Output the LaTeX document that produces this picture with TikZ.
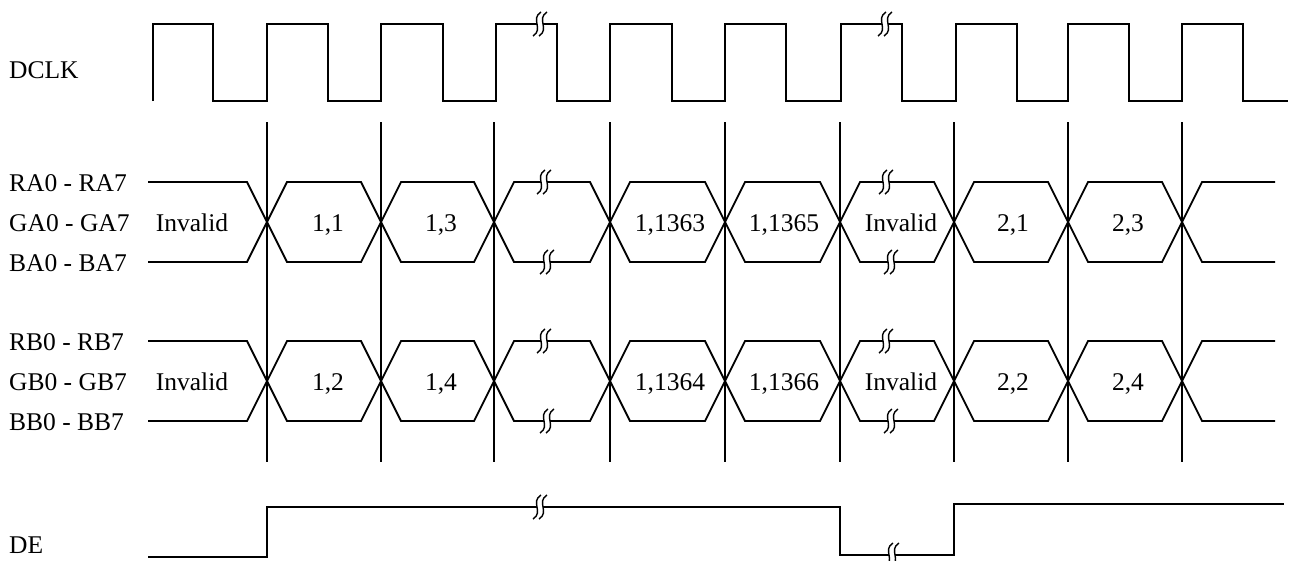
\documentclass[tikz,border=0pt]{standalone}
\usepackage{fontspec}
\setmainfont{Liberation Serif}
\newcommand{\brk}[2]{%
  \fill[white] (#1-3,#2-2.5) rectangle (#1+3,#2+2.5);
  \draw[line width=1.4pt] (#1+1,#2-12) .. controls (#1-10,#2-5) and (#1+4,#2+5) .. (#1-7,#2+12)
    (#1+7,#2-12) .. controls (#1-4,#2-5) and (#1+10,#2+5) .. (#1-1,#2+12);}

\begin{document}
\begin{tikzpicture}[x=1pt,y=-1pt,line join=miter,
    sig/.style={line width=1.8pt},
    lbl/.style={inner sep=0pt,font=\fontsize{25.5}{30}\selectfont},
    val/.style={lbl,text depth=0pt}]
\useasboundingbox (0,0) rectangle (1290,560);

% signal names
\node[lbl,anchor=west] (DCLK) at (9,70) {DCLK};
\node[lbl,anchor=west] (RA) at (9,183) {RA0 - RA7};
\node[lbl,anchor=west] (GA) at (9,223) {GA0 - GA7};
\node[lbl,anchor=west] (BA) at (9,263) {BA0 - BA7};
\node[lbl,anchor=west] (RB) at (9,342) {RB0 - RB7};
\node[lbl,anchor=west] (GB) at (9,382) {GB0 - GB7};
\node[lbl,anchor=west] (BB) at (9,422) {BB0 - BB7};
\node[lbl,anchor=west] (DE) at (9,545) {DE};

% clock
\draw[sig] (153,101) \foreach \r/\f in {153/213,267/328,381/443,496/557,610/672,
    725/786,841/902,956/1017,1068/1129,1182/1243}
    { -- (\r,101) -- (\r,24) -- (\f,24) -- (\f,101) } -- (1288,101);

% sampling lines
\foreach \x in {267,381,494,610,725,840,954,1068,1182}
    \draw[sig] (\x,122) -- (\x,462);

% data buses
\foreach \y in {182,341} {
  \begin{scope}[shift={(0,\y)}]
    \draw[sig] (148,0) -- (247,0) -- (267,40) -- (247,80) -- (148,80);
    \foreach \a/\b in {267/381,381/494,494/610,610/725,725/840,840/954,954/1068,1068/1182}
      \draw[sig] (\a,40) -- (\a+20,0) -- (\b-20,0) -- (\b,40) -- (\b-20,80) -- (\a+20,80) -- cycle;
    \draw[sig] (1275,0) -- (1202,0) -- (1182,40) -- (1202,80) -- (1275,80);
  \end{scope}
}

\node[val] (A0) at (192,223) {Invalid};
\node[val] (A11) at (328,223) {1,1};
\node[val] (A13) at (441,223) {1,3};
\node[val] (A1363) at (670,223) {1,1363};
\node[val] (A1365) at (784,223) {1,1365};
\node[val] (A1) at (901,223) {Invalid};
\node[val] (A21) at (1013,223) {2,1};
\node[val] (A23) at (1128,223) {2,3};

\node[val] (B0) at (192,382) {Invalid};
\node[val] (B12) at (328,382) {1,2};
\node[val] (B14) at (441,382) {1,4};
\node[val] (B1364) at (670,382) {1,1364};
\node[val] (B1366) at (784,382) {1,1366};
\node[val] (B1) at (901,382) {Invalid};
\node[val] (B22) at (1013,382) {2,2};
\node[val] (B24) at (1128,382) {2,4};

% data enable
\draw[sig] (148,557) -- (267,557) -- (267,507) -- (840,507) -- (840,555)
    -- (954,555) -- (954,504) -- (1284,504);

% breaks
\brk{540}{24} \brk{885}{24}
\brk{544}{182} \brk{547}{262} \brk{886}{182} \brk{891}{262}
\brk{544}{341} \brk{547}{421} \brk{886}{341} \brk{891}{421}
\brk{540}{507} \brk{892}{555}
\end{tikzpicture}
\end{document}
